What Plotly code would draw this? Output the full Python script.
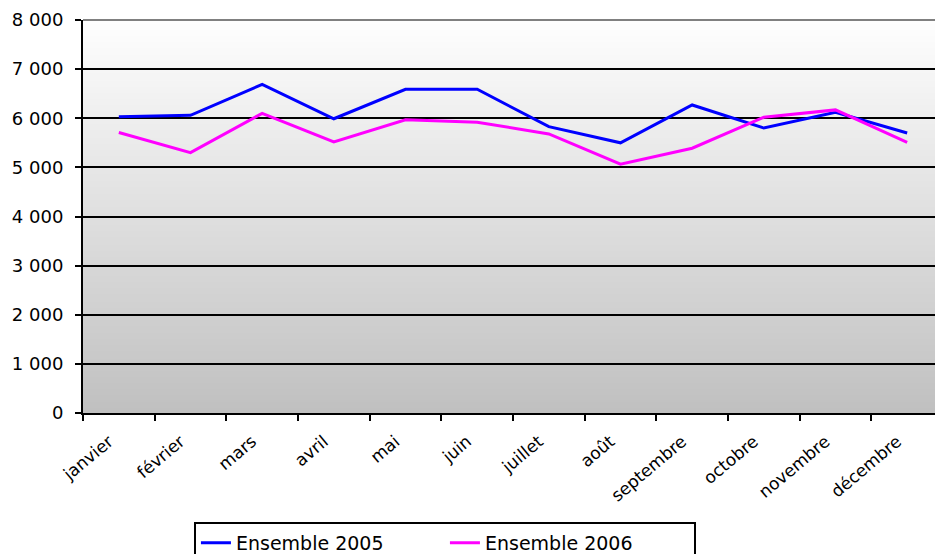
import zlib, struct, base64
import plotly.graph_objects as go

months = ["janvier", "février", "mars", "avril", "mai", "juin", "juillet",
          "août", "septembre", "octobre", "novembre", "décembre"]
ens_2005 = [6030, 6060, 6690, 5990, 6590, 6590, 5830, 5500, 6270, 5800, 6120, 5700]
ens_2006 = [5710, 5300, 6100, 5520, 5970, 5920, 5680, 5065, 5390, 6020, 6170, 5510]
series_names = ["Ensemble 2005", "Ensemble 2006"]
y_ticks = [0, 1000, 2000, 3000, 4000, 5000, 6000, 7000, 8000]


def gradient_png(h=256, top=254, bottom=192):
    raw = b""
    for i in range(h):
        v = int(round(top + (bottom - top) * i / (h - 1)))
        raw += b"\x00" + bytes([v, v])
    def chunk(t, d):
        c = struct.pack(">I", len(d)) + t + d
        return c + struct.pack(">I", zlib.crc32(t + d) & 0xffffffff)
    png = b"\x89PNG\r\n\x1a\n"
    png += chunk(b"IHDR", struct.pack(">IIBBBBB", 2, h, 8, 0, 0, 0, 0))
    png += chunk(b"IDAT", zlib.compress(raw))
    png += chunk(b"IEND", b"")
    return "data:image/png;base64," + base64.b64encode(png).decode()


fig = go.Figure()
fig.add_trace(go.Scatter(x=months, y=ens_2005, mode="lines", name=series_names[0],
                         line=dict(color="#0000FF", width=3)))
fig.add_trace(go.Scatter(x=months, y=ens_2006, mode="lines", name=series_names[1],
                         line=dict(color="#FF00FF", width=3)))

# the page places the figure 8px in from the top-left, so margins compensate
fig.update_layout(
    width=935, height=546,
    margin=dict(l=75, r=0, t=12, b=141, autoexpand=False),
    paper_bgcolor="white",
    plot_bgcolor="rgba(0,0,0,0)",
    separators=". ",
    font=dict(family="DejaVu Sans", color="black"),
    showlegend=True,
    legend=dict(orientation="h", x=0.129, y=-0.277, xanchor="left", yanchor="top",
                bordercolor="black", borderwidth=2, bgcolor="white",
                font=dict(family="DejaVu Sans", size=19),
                entrywidth=204, entrywidthmode="pixels"),
    images=[dict(source=gradient_png(), xref="paper", yref="paper", x=0, y=1,
                 sizex=1, sizey=1, xanchor="left", yanchor="top",
                 sizing="stretch", layer="below")],
    shapes=[dict(type="line", xref="paper", yref="paper", x0=0, x1=1, y0=1, y1=1,
                 line=dict(color="#808080", width=2))],
)
fig.update_xaxes(type="category", range=[-0.5, 11.5], tickson="boundaries",
                 ticks="outside", ticklen=6, tickwidth=2, tickcolor="black",
                 showline=True, linecolor="black", linewidth=2, automargin=False,
                 showgrid=False, tickangle=-40,
                 ticklabelstandoff=10, ticklabelshift=-10,
                 tickfont=dict(family="DejaVu Sans", size=17))
fig.update_yaxes(range=[0, 8000], tickvals=y_ticks, tickformat=",d",
                 ticks="outside", ticklen=6, tickwidth=2, tickcolor="black",
                 showline=True, linecolor="black", linewidth=2, automargin=False,
                 showgrid=True, gridcolor="black", gridwidth=2,
                 ticklabelstandoff=8,
                 zeroline=False, tickfont=dict(family="DejaVu Sans", size=18))

fig.write_html("out.html")
